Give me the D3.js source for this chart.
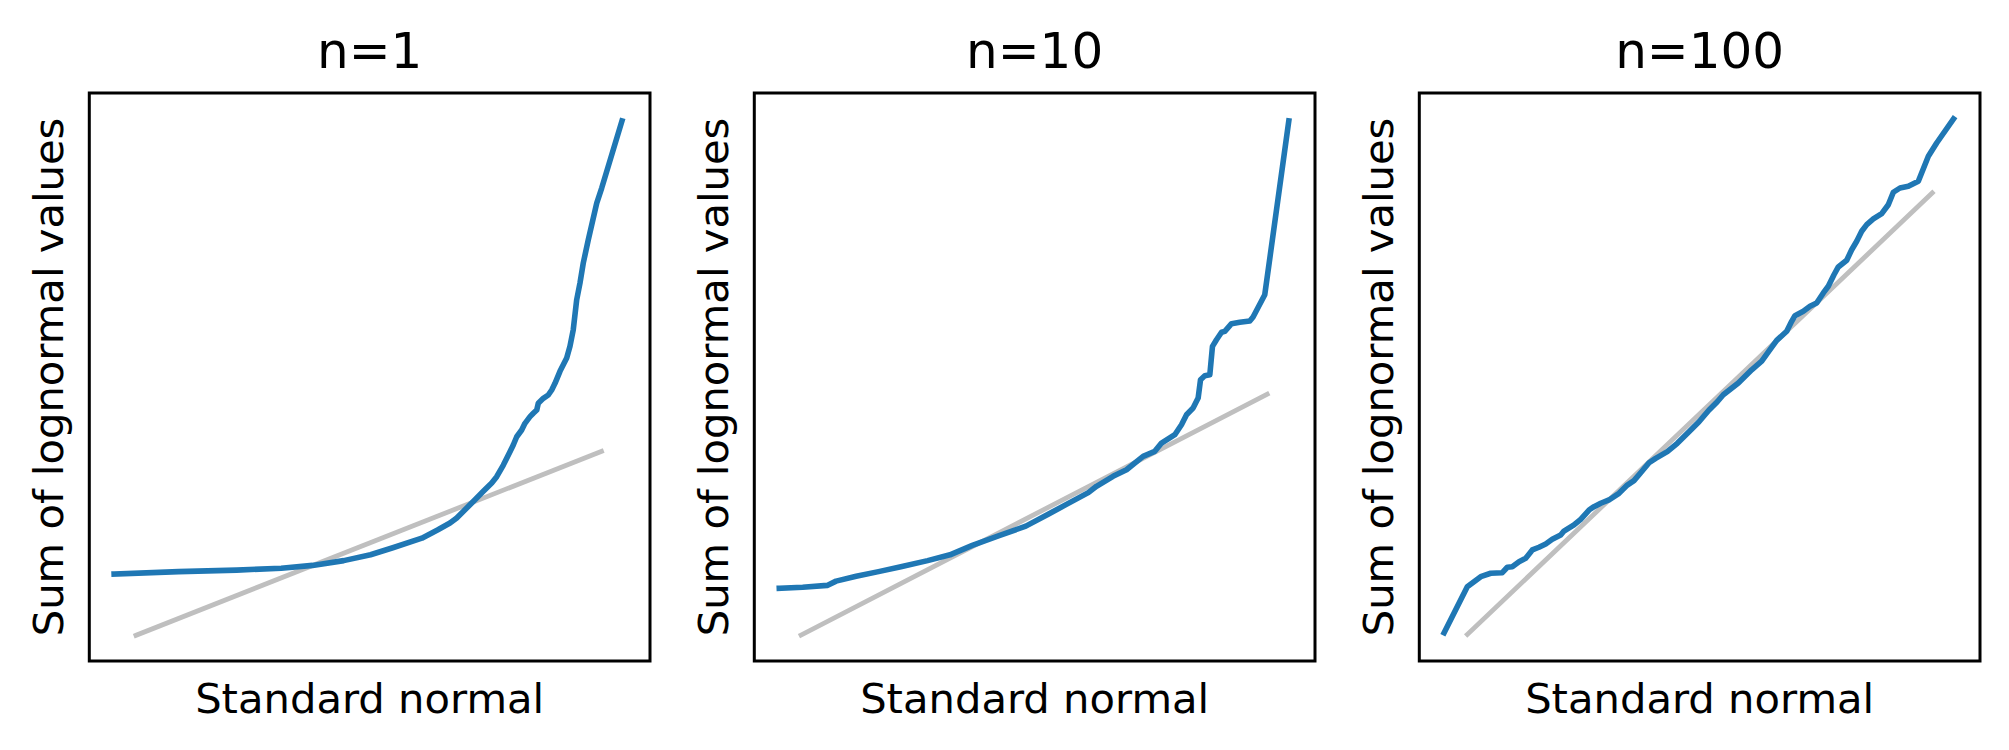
<!DOCTYPE html>
<html>
<head>
<meta charset="utf-8">
<script src="https://cdn.jsdelivr.net/npm/d3@7"></script>
<style>
  html, body { margin: 0; padding: 0; background: #ffffff; }
  svg { display: block; }
  text { font-family: "DejaVu Sans", sans-serif; fill: #000; }
</style>
</head>
<body>
<script>
// ---------- data ----------
const titles = ["n=1", "n=10", "n=100"];
const xLabel = "Standard normal";
const yLabel = "Sum of lognormal values";

// n = 1
const n1Z = [-3.19,-2.385,-1.661,-1.104,-0.713,-0.324,0.011,0.289,0.652,0.847,1.003,1.087,1.212,1.315,1.419,1.524,
  1.586,1.669,1.752,1.793,1.836,1.898,1.939,2.002,2.043,2.086,2.105,2.168,2.230,2.273,2.314,
  2.376,2.460,2.501,2.542,2.585,2.626,2.667,2.730,2.835,2.897,3.150];
const n1Sum = [0.72,1.02,1.20,1.44,1.78,2.37,3.09,3.96,5.14,6.14,7.0,7.62,8.85,9.88,10.91,11.93,
  12.71,14.15,15.79,16.62,17.64,18.47,19.29,20.11,20.53,20.93,21.76,22.37,22.78,23.40,24.22,
  25.70,27.34,28.78,30.83,34.53,36.58,39.05,41.92,46.44,48.29,56.55];
const n1FitZ = [-2.917, 2.894];
const n1FitSum = [-6.83, 15.83];

// n = 10
const n10Z = [-3.188,-2.896,-2.590,-2.479,-2.228,-1.949,-1.670,-1.336,-1.057,-0.778,-0.444,-0.110,0.169,0.391,0.670,0.772,0.979,1.147,1.354,1.500,1.584,1.750,1.833,1.896,1.978,2.041,2.071,2.124,2.187,2.220,2.270,2.333,2.374,2.458,2.561,2.686,2.727,2.873,3.173];
const n10Sum = [22.92,23.16,23.63,24.69,25.87,27.03,28.21,29.74,31.17,33.51,35.88,38.25,41.18,43.55,46.50,48.06,50.52,52.15,55.45,56.68,58.73,60.78,63.24,65.70,67.36,69.82,74.33,75.32,75.56,82.56,84.19,86.02,86.26,88.14,88.48,88.80,89.79,95.28,138.10];
const n10FitZ = [-2.916, 2.903];
const n10FitSum = [11.40, 70.76];

// n = 100
const n100Z = [-3.190,-2.901,-2.733,-2.609,-2.464,-2.401,-2.339,-2.255,-2.172,-2.089,
  -2.006,-1.922,-1.840,-1.735,-1.694,-1.569,-1.485,-1.381,-1.319,-1.235,
  -1.132,-1.007,-0.903,-0.820,-0.736,-0.632,-0.549,-0.404,-0.279,-0.133,
  -0.008,0.117,0.220,0.295,0.483,0.650,0.775,0.878,0.962,1.087,
  1.149,1.190,1.294,1.378,1.461,1.544,1.606,1.677,1.731,1.836,
  1.898,1.961,2.023,2.086,2.168,2.273,2.355,2.418,2.501,2.605,
  2.730,2.855,2.959,3.169];
const n100Sum = [319.9,352.3,359.4,361.8,362.2,366.0,366.4,369.9,372.3,378.2,
  380.1,382.4,385.7,388.7,391.5,395.8,399.8,406.3,408.7,411.1,
  413.4,418.1,423.9,427.0,432.6,439.6,442.7,447.4,453.3,461.5,
  468.5,476.8,482.6,487.5,495.8,505.1,511.1,519.2,525.8,532.2,
  539.2,543.2,546.3,549.8,552.1,559.2,563.9,572.0,577.5,582.2,
  589.6,595.6,602.6,607.3,611.3,615.0,621.3,630.1,633.1,634.3,
  637.8,655.4,664.8,681.7];
const n100FitZ = [-2.900, 2.904];
const n100FitSum = [318.7, 629.6];

// axis domains (ticks hidden in the original)
const xDomain = [-3.5, 3.5];
const yDomains = [[-10, 60], [5, 145], [300, 700]];

// ---------- layout ----------
const W = 2009, H = 750;
const panelLeft0 = 89.3, panelStep = 665, panelW = 560.7;
const panelTop = 93, panelH = 568;
const labelSize = 41.7, titleSize = 50;

const panels = [
  {title: titles[0], z: n1Z, s: n1Sum, fz: n1FitZ, fs: n1FitSum, yd: yDomains[0]},
  {title: titles[1], z: n10Z, s: n10Sum, fz: n10FitZ, fs: n10FitSum, yd: yDomains[1]},
  {title: titles[2], z: n100Z, s: n100Sum, fz: n100FitZ, fs: n100FitSum, yd: yDomains[2]}
];

const svg = d3.select("body").append("svg")
  .attr("width", W).attr("height", H)
  .attr("viewBox", `0 0 ${W} ${H}`);
svg.append("rect").attr("width", W).attr("height", H).attr("fill", "#fff");

panels.forEach((p, i) => {
  const left = panelLeft0 + i * panelStep;
  const x = d3.scaleLinear().domain(xDomain).range([left, left + panelW]);
  const y = d3.scaleLinear().domain(p.yd).range([panelTop + panelH, panelTop]);
  const g = svg.append("g");

  const line = d3.line().x(d => x(d[0])).y(d => y(d[1]));

  // fit (model) line
  g.append("path")
    .datum(d3.zip(p.fz, p.fs))
    .attr("d", line)
    .attr("fill", "none")
    .attr("stroke", "#bfbfbf")
    .attr("stroke-width", 4.8)
    .attr("stroke-linecap", "square");

  // sample line
  g.append("path")
    .datum(d3.zip(p.z, p.s))
    .attr("d", line)
    .attr("fill", "none")
    .attr("stroke", "#1f77b4")
    .attr("stroke-width", 5.6)
    .attr("stroke-linecap", "square")
    .attr("stroke-linejoin", "round");

  // frame (spines, no ticks)
  const [x0, x1] = x.range();
  const [y0, y1] = y.range();
  g.append("rect")
    .attr("x", x0).attr("y", y1)
    .attr("width", x1 - x0).attr("height", y0 - y1)
    .attr("fill", "none").attr("stroke", "#000").attr("stroke-width", 3);

  // title
  g.append("text")
    .attr("x", (x0 + x1) / 2).attr("y", 67.7)
    .attr("text-anchor", "middle")
    .attr("font-size", titleSize)
    .text(p.title);

  // x label
  g.append("text")
    .attr("x", (x0 + x1) / 2).attr("y", 712.6)
    .attr("text-anchor", "middle")
    .attr("font-size", labelSize)
    .text(xLabel);

  // y label
  const cy = (y0 + y1) / 2;
  const lx = x0 - 26.5;
  g.append("text")
    .attr("transform", `translate(${lx},${cy}) rotate(-90)`)
    .attr("text-anchor", "middle")
    .attr("font-size", labelSize)
    .text(yLabel);
});
</script>
</body>
</html>
